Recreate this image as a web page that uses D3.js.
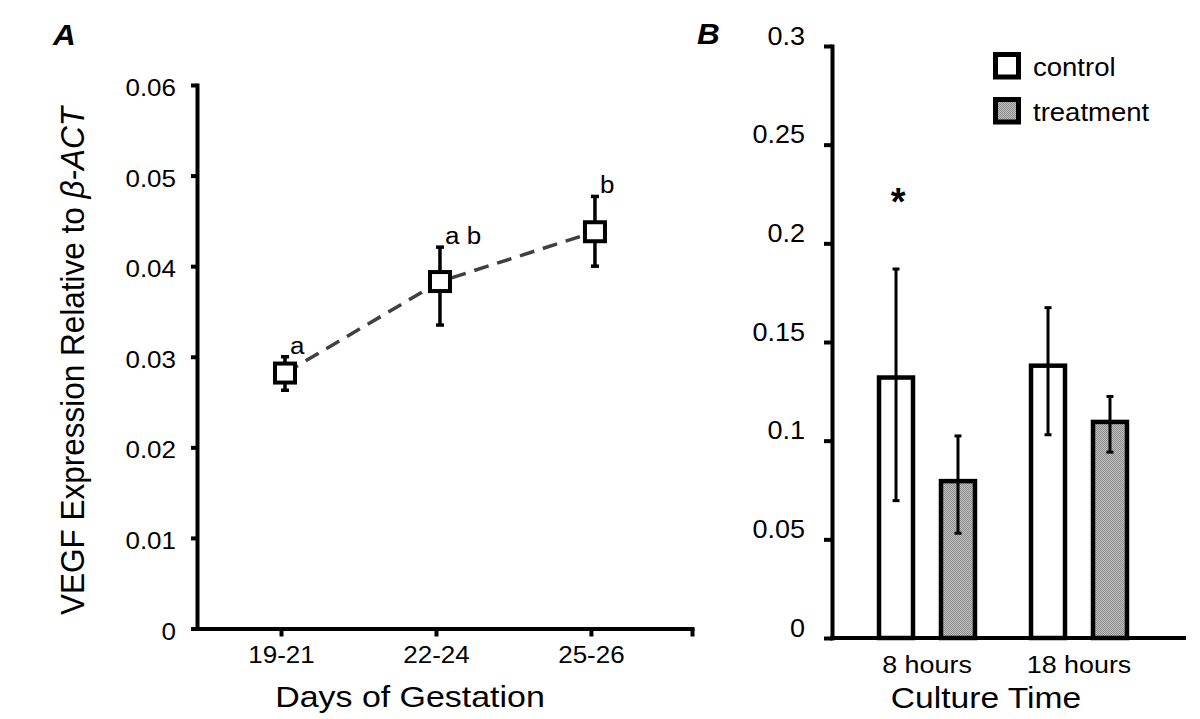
<!DOCTYPE html>
<html>
<head>
<meta charset="utf-8">
<script src="https://cdn.jsdelivr.net/npm/d3@7"></script>
<style>
  html, body { margin: 0; padding: 0; background: #fff; }
  svg { display: block; }
  text { font-family: "Liberation Sans", Arial, Helvetica, sans-serif; fill: #000; }
</style>
</head>
<body>
<svg id="chart" width="1200" height="719"></svg>
<script>
// ---------------- Panel A data ----------------
const days = ["19-21", "22-24", "25-26"];
const vegfMean = [0.0282, 0.0383, 0.0438];
const vegfErrLow = [0.0263, 0.0335, 0.0400];
const vegfErrHigh = [0.0300, 0.0421, 0.0477];
const sigLetters = ["a", "a b", "b"];
const yTicksA = [0, 0.01, 0.02, 0.03, 0.04, 0.05, 0.06];
const yTickLabelsA = ["0", "0.01", "0.02", "0.03", "0.04", "0.05", "0.06"];

// ---------------- Panel B data ----------------
const cultureTimes = ["8 hours", "18 hours"];
const groups = ["control", "treatment"];
const controlMean = [0.132, 0.138];
const treatmentMean = [0.0795, 0.1095];
const controlLow = [0.0696, 0.103];
const controlHigh = [0.187, 0.1674];
const treatmentLow = [0.0531, 0.0942];
const treatmentHigh = [0.1024, 0.1224];
const significant = ["*", ""];
const yTicksB = [0, 0.05, 0.1, 0.15, 0.2, 0.25, 0.3];
const yTickLabelsB = ["0", "0.05", "0.1", "0.15", "0.2", "0.25", "0.3"];

const svg = d3.select("#chart");
const SXA = 1.13, SXB = 1.08;

function sText(g, x, y, str, o) {
  const rot = o.rotate ? ` rotate(${o.rotate})` : "";
  return g.append("text")
    .attr("transform", `translate(${x},${y}) scale(${o.sx || 1},1)${rot}`)
    .attr("text-anchor", o.anchor || "start")
    .style("font-size", o.size + "px")
    .style("font-weight", o.weight || "normal")
    .style("font-style", o.style || "normal")
    .text(str);
}

// pattern for treatment
const defs = svg.append("defs");
const pat = defs.append("pattern").attr("id", "hatch").attr("patternUnits", "userSpaceOnUse")
  .attr("width", 2).attr("height", 2);
pat.append("rect").attr("width", 2).attr("height", 2).attr("fill", "#c2c2c2");
pat.append("rect").attr("width", 1).attr("height", 1).attr("fill", "#8a8a8a");
pat.append("rect").attr("x", 1).attr("y", 1).attr("width", 1).attr("height", 1).attr("fill", "#8a8a8a");

// ================= Panel A =================
const gA = svg.append("g");
const xA = d3.scaleLinear().domain([0.458, 3.652]).range([197, 692]);
const yA = d3.scaleLinear().domain([0, 0.06]).range([628.5, 85]);

const axAY = gA.append("g").attr("transform", `translate(${xA.range()[0]},0)`)
  .call(d3.axisLeft(yA).tickValues(yTicksA).tickSizeOuter(0).tickSizeInner(6)
    .tickFormat((d, i) => yTickLabelsA[i]));
const axAX = gA.append("g").attr("transform", `translate(0,${yA(0)})`)
  .call(d3.axisBottom(xA).tickValues([1, 2, 3, xA.domain()[1]]).tickSizeOuter(0).tickSizeInner(8)
    .tickFormat((d, i) => days[i] || ""));
[axAY, axAX].forEach(ax => {
  ax.select(".domain").attr("stroke", "#000").attr("stroke-width", 4).attr("stroke-linecap", "square");
  ax.selectAll(".tick line").attr("stroke", "#000").attr("stroke-width", 4);
});
axAY.selectAll(".tick text").attr("x", null).attr("dy", null)
  .attr("transform", `translate(-21,10.5) scale(${SXA},1)`)
  .style("font-size", "23px").attr("text-anchor", "end").attr("fill", "#000");
axAX.selectAll(".tick text").attr("y", null).attr("dy", null)
  .attr("transform", `translate(0,34) scale(${SXA},1)`)
  .style("font-size", "23px").attr("text-anchor", "middle").attr("fill", "#000");

const ptsA = days.map((d, i) => ({ x: xA(i + 1) + 4, y: yA(vegfMean[i]), lo: yA(vegfErrLow[i]), hi: yA(vegfErrHigh[i]), lab: sigLetters[i] }));

gA.append("path").datum(ptsA)
  .attr("d", d3.line().x(d => d.x).y(d => d.y))
  .attr("fill", "none").attr("stroke", "#404040").attr("stroke-width", 3.5)
  .attr("stroke-dasharray", "15,9");

const eA = gA.selectAll("g.errA").data(ptsA).enter().append("g");
eA.append("line").attr("x1", d => d.x).attr("x2", d => d.x).attr("y1", d => d.lo).attr("y2", d => d.hi)
  .attr("stroke", "#000").attr("stroke-width", 3.5);
eA.append("line").attr("x1", d => d.x - 4).attr("x2", d => d.x + 4).attr("y1", d => d.lo).attr("y2", d => d.lo)
  .attr("stroke", "#000").attr("stroke-width", 3.5);
eA.append("line").attr("x1", d => d.x - 4).attr("x2", d => d.x + 4).attr("y1", d => d.hi).attr("y2", d => d.hi)
  .attr("stroke", "#000").attr("stroke-width", 3.5);
eA.append("rect").attr("x", d => d.x - 10).attr("y", d => d.y - 9.5).attr("width", 20).attr("height", 19)
  .attr("fill", "#fff").attr("stroke", "#000").attr("stroke-width", 4);
ptsA.forEach(d => sText(gA, d.x + 5, d.hi - 3, d.lab, { size: 23, sx: SXA }));

// titles A
sText(gA, 53, 45, "A", { size: 30, sx: 1.05, weight: "bold", style: "italic" });
sText(gA, 410, 707, "Days of Gestation", { size: 29, sx: 1.17, anchor: "middle" });
const yt = gA.append("text")
  .attr("transform", `translate(84,361) scale(1.08,1) rotate(-90)`)
  .attr("text-anchor", "middle").style("font-size", "31.5px");
yt.append("tspan").text("VEGF Expression Relative to ");
yt.append("tspan").style("font-style", "italic").text("β-ACT");

// ================= Panel B =================
const gB = svg.append("g");
const yB = d3.scaleLinear().domain([0, 0.3]).range([638, 46]);
const x0 = d3.scaleBand().domain(cultureTimes).range([851, 1155]).paddingInner(0).paddingOuter(0);
const x1 = d3.scaleBand().domain(groups).range([0, x0.bandwidth()]).paddingInner(0.387).paddingOuter(0.42);

const axBY = gB.append("g").attr("transform", `translate(832,0)`)
  .call(d3.axisLeft(yB).tickValues(yTicksB).tickSizeOuter(0).tickSizeInner(8)
    .tickFormat((d, i) => yTickLabelsB[i]));
axBY.select(".domain").attr("stroke", "#000").attr("stroke-width", 4).attr("stroke-linecap", "square");
axBY.selectAll(".tick line").attr("stroke", "#000").attr("stroke-width", 4);
axBY.selectAll(".tick text").attr("x", null).attr("dy", null)
  .attr("transform", `translate(-27,-2) scale(${SXB},1)`)
  .style("font-size", "25px").attr("text-anchor", "end").attr("fill", "#000");

const barData = [];
cultureTimes.forEach((c, i) => {
  barData.push({ c, g: "control", v: controlMean[i], lo: controlLow[i], hi: controlHigh[i] });
  barData.push({ c, g: "treatment", v: treatmentMean[i], lo: treatmentLow[i], hi: treatmentHigh[i] });
});

gB.selectAll("rect.bar").data(barData).enter().append("rect")
  .attr("x", d => x0(d.c) + x1(d.g) + 2)
  .attr("width", x1.bandwidth() - 4)
  .attr("y", d => yB(d.v))
  .attr("height", d => yB(0) - yB(d.v))
  .attr("fill", d => d.g === "control" ? "#fff" : "url(#hatch)")
  .attr("stroke", "#000").attr("stroke-width", 4.5);

// x axis B
gB.append("line").attr("x1", 830).attr("x2", 1186).attr("y1", yB(0)).attr("y2", yB(0))
  .attr("stroke", "#000").attr("stroke-width", 4);

const eB = gB.selectAll("g.errB").data(barData).enter().append("g");
const cx = d => x0(d.c) + x1(d.g) + x1.bandwidth() / 2;
eB.append("line").attr("x1", cx).attr("x2", cx).attr("y1", d => yB(d.lo)).attr("y2", d => yB(d.hi))
  .attr("stroke", "#000").attr("stroke-width", 3);
eB.append("line").attr("x1", d => cx(d) - 3.5).attr("x2", d => cx(d) + 3.5).attr("y1", d => yB(d.lo)).attr("y2", d => yB(d.lo))
  .attr("stroke", "#000").attr("stroke-width", 3);
eB.append("line").attr("x1", d => cx(d) - 3.5).attr("x2", d => cx(d) + 3.5).attr("y1", d => yB(d.hi)).attr("y2", d => yB(d.hi))
  .attr("stroke", "#000").attr("stroke-width", 3);

// category labels
cultureTimes.forEach(c => sText(gB, x0(c) + x0.bandwidth() / 2, yB(0) + 35, c, { size: 24, sx: 1.12, anchor: "middle" }));
// significance
cultureTimes.forEach((c, i) => {
  if (significant[i]) sText(gB, x0(c) + x1("control") + x1.bandwidth() / 2 + 2, 215, significant[i], { size: 38, weight: "bold", anchor: "middle" });
});

sText(gB, 697, 44, "B", { size: 30, sx: 1.05, weight: "bold", style: "italic" });
sText(gB, 986, 708, "Culture Time", { size: 30, sx: 1.12, anchor: "middle" });

// legend
const leg = gB.append("g");
groups.forEach((gname, i) => {
  const ly = 54.5 + i * 45;
  leg.append("rect").attr("x", 995.5).attr("y", ly).attr("width", 23).attr("height", 22.5)
    .attr("fill", gname === "control" ? "#fff" : "url(#hatch)").attr("stroke", "#000").attr("stroke-width", 5);
  sText(leg, 1033, ly + 21.5, gname, { size: 25.5, sx: 1.08 });
});
</script>
</body>
</html>
